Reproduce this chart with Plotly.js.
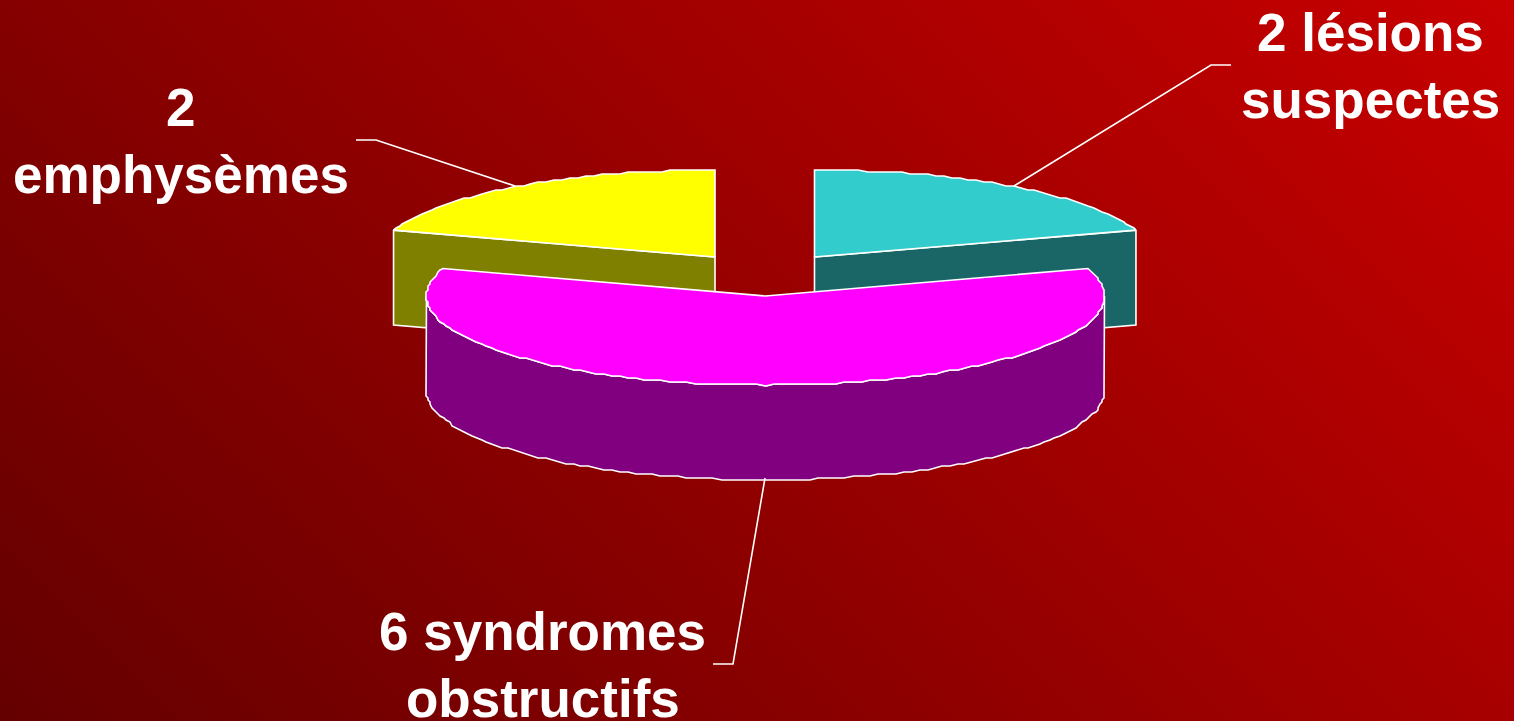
<!DOCTYPE html>
<html>
<head>
<meta charset="utf-8">
<script src="https://cdn.plot.ly/plotly-3.0.1.min.js"></script>
<style>
html,body{margin:0;padding:0;width:1514px;height:721px;overflow:hidden;
background:linear-gradient(45deg,#640000 0%,#c80000 100%);}
#chart{width:1514px;height:721px;}
</style>
</head>
<body>
<div id="chart"></div>
<script>
// Data
const categories = ["emphysèmes", "lésions suspectes", "syndromes obstructifs"];
const seriesValues = [2, 2, 6];
const tickLabels = ["2<br>emphysèmes", "2 lésions<br>suspectes", "6 syndromes<br>obstructifs"];
const topColors = ["#ffff00", "#33cccc", "#ff00ff"];
const wallColors = ["#808000", "#1a6666", "#800080"];

// Pie projection (axes are in screen-like units)
const cx = 765.5, cy = 296, depth = 95;
const radiiX = [338, 338, 339];
const radiiY = [87, 87, 89];
const explode = [[-50.5,-39],[49,-39],[0,0]];
const total = seriesValues.reduce((a,b)=>a+b,0);
const spans = seriesValues.map(v => v/total*360);
const GRID = 2;
const snap = v => Math.round(v/GRID)*GRID;

function arc(i, from, to, dy){
  const pts=[];
  const steps=Math.max(1,Math.round(Math.abs(to-from)/1.5));
  for(let k=0;k<=steps;k++){
    const t=(from+(to-from)*k/steps)*Math.PI/180;
    const x=cx+explode[i][0]+radiiX[i]*Math.cos(t), y=cy+explode[i][1]-radiiY[i]*Math.sin(t)+dy;
    const end=(k===0||k===steps);
    pts.push(end?[x,y]:[snap(x),snap(y)]);
  }
  return pts;
}
function poly(pts,fill){
  return {type:'scatter',mode:'lines',x:pts.map(p=>p[0]),y:pts.map(p=>p[1]),
    fill:'toself',fillcolor:fill,line:{color:'#ffffff',width:1.6,shape:'linear'},
    hoverinfo:'skip',showlegend:false};
}
function apex(i,dy){return [cx+explode[i][0],cy+explode[i][1]+dy];}

const traces=[];
const a0 = 90+spans[0];
const a1 = 90-spans[1];
[[0,90,a0],[1,a1,90]].forEach(([i,f,t])=>{
  const edgeA = i===0 ? a0 : a1;
  const e = arc(i,edgeA,edgeA,0)[0];
  const ap = apex(i,0);
  traces.push(poly([e,ap,[ap[0],ap[1]+depth],[e[0],e[1]+depth],e],wallColors[i]));
  traces.push(poly([ap,...arc(i,f,t,0),ap],topColors[i]));
});
const b0 = a1, b1 = a1-spans[2];
const wallTop = arc(2,-180,0,0);
const wallBot = arc(2,0,-180,depth);
traces.push(poly([...wallTop,...wallBot,wallTop[0]],wallColors[2]));
traces.push(poly([apex(2,0),...arc(2,b1,b0,0),apex(2,0)],topColors[2]));

// Leader lines
const leaders=[
  [[356,140],[376,140],[515,186]],
  [[1231,65],[1211,65],[1014,186]],
  [[765,478],[733,664],[713,664]]
];
leaders.forEach(l=>traces.push({type:'scatter',mode:'lines',x:l.map(p=>p[0]),y:l.map(p=>p[1]),
  line:{color:'#ffffff',width:1.6},hoverinfo:'skip',showlegend:false}));

// Label lines: [centre x, first line y]; 67 between lines
const labelPos=[[180.5,107],[1370.5,32],[542.5,631]];
const lineGap=67;
const annotations=[];
tickLabels.forEach((t,i)=>t.split('<br>').forEach((line,j)=>annotations.push({
  x:labelPos[i][0],y:labelPos[i][1]+j*lineGap,xref:'x',yref:'y',text:line,showarrow:false,
  xanchor:'center',yanchor:'middle',align:'center',
  font:{family:'"Liberation Sans",Arial,sans-serif',size:53,color:'#ffffff',weight:700}})));

Plotly.newPlot('chart',traces,{
  width:1514,height:721,margin:{l:0,r:0,t:0,b:0},
  paper_bgcolor:'rgba(0,0,0,0)',plot_bgcolor:'rgba(0,0,0,0)',
  xaxis:{range:[0,1514],visible:false,fixedrange:true},
  yaxis:{range:[721,0],visible:false,fixedrange:true},
  annotations:annotations,showlegend:false
},{displayModeBar:false,staticPlot:true});
</script>
</body>
</html>
